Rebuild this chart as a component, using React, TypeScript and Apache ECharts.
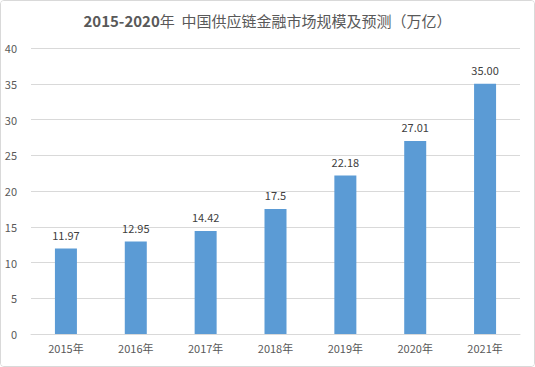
import React, { useEffect, useRef } from "react";
import * as echarts from "echarts";

const categories = ["2015年", "2016年", "2017年", "2018年", "2019年", "2020年", "2021年"];
const values = [11.97, 12.95, 14.42, 17.5, 22.18, 27.01, 35.0];
const valueLabels = ["11.97", "12.95", "14.42", "17.5", "22.18", "27.01", "35.00"];
const titleYears = "2015-2020";
const titleRest = "年  中国供应链金融市场规模及预测（万亿）";

export default function App() {
  const ref = useRef<HTMLDivElement>(null);
  useEffect(() => {
    document.body.style.margin = "0";
    const chart = echarts.init(ref.current!, null, { renderer: "svg" });
    chart.setOption({
      animation: false,
      backgroundColor: "#ffffff",
      title: {
        text: `{a|${titleYears}}{b|${titleRest}}`,
        left: "center",
        top: 8,
        textStyle: {
          rich: {
            a: {
              fontFamily: "Noto Sans CJK SC",
              fontSize: 15,
              fontWeight: "bold",
              color: "#595959",
            },
            b: {
              fontFamily: "Noto Sans CJK SC",
              fontSize: 15,
              fontWeight: "normal",
              color: "#595959",
            },
          },
        },
      },
      grid: { left: 31, right: 15, top: 48, bottom: 33, containLabel: false },
      xAxis: {
        type: "category",
        data: categories,
        axisLine: { lineStyle: { color: "#d9d9d9" } },
        axisTick: { show: false },
        axisLabel: {
          color: "#595959",
          fontSize: 11,
          fontFamily: "Noto Sans CJK SC",
          margin: 8,
        },
      },
      yAxis: {
        type: "value",
        min: 0,
        max: 40,
        interval: 5,
        axisLine: { show: false },
        axisTick: { show: false },
        splitLine: { lineStyle: { color: "#d9d9d9" } },
        axisLabel: {
          color: "#595959",
          fontSize: 11,
          fontFamily: "Noto Sans CJK SC",
          margin: 14,
        },
      },
      series: [
        {
          type: "bar",
          data: values,
          barWidth: 22,
          itemStyle: { color: "#5b9bd5" },
          label: {
            show: true,
            position: "top",
            distance: 8,
            color: "#404040",
            fontSize: 11,
            fontFamily: "Noto Sans CJK SC",
            formatter: (p: any) => valueLabels[p.dataIndex],
          },
        },
      ],
    });
    return () => chart.dispose();
  }, []);
  return (
    <div
      style={{
        position: "relative",
        width: 535,
        height: 367,
        boxSizing: "border-box",
        border: "1px solid #d9d9d9",
        borderRadius: 4,
        overflow: "hidden",
        background: "#fff",
      }}
    >
      <div ref={ref} style={{ position: "absolute", left: -1, top: -1, width: 535, height: 367 }} />
    </div>
  );
}
